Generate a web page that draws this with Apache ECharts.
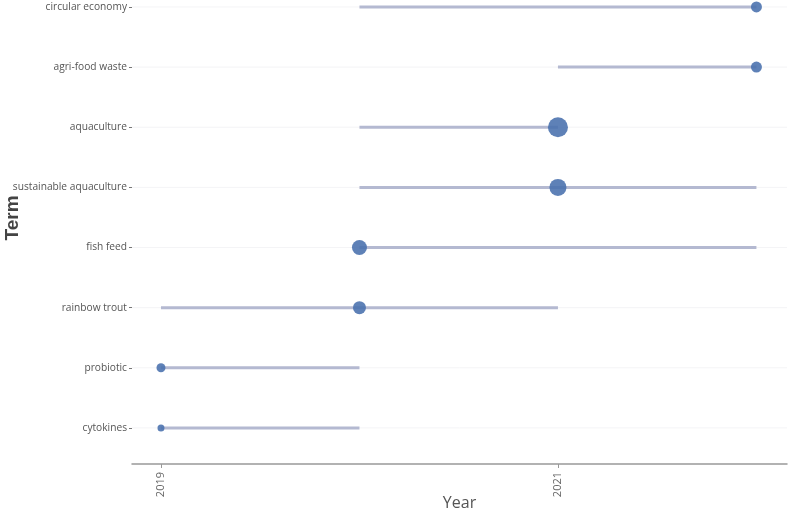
<!DOCTYPE html>
<html>
<head>
<meta charset="utf-8">
<script src="https://cdn.jsdelivr.net/npm/echarts@6/dist/echarts.min.js"></script>
<style>html,body{margin:0;padding:0;background:#fff}#c{width:789px;height:514px}</style>
</head>
<body>
<div id="c"></div>
<script>
// Terms listed top to bottom
const terms = ["circular economy","agri-food waste","aquaculture","sustainable aquaculture","fish feed","rainbow trout","probiotic","cytokines"];
const yearStart = [2020, 2021, 2020, 2020, 2020, 2019, 2019, 2019];
const yearMedian = [2022, 2022, 2021, 2021, 2020, 2020, 2019, 2019];
const yearEnd = [2022, 2022, 2021, 2022, 2022, 2021, 2020, 2020];
const freq = [8, 8, 17, 14, 12, 10, 6, 4];
const xTicks = [2019, 2021];

const n = terms.length;
const yIdx = terms.map((t, i) => n - 1 - i);
const fMin = Math.min(...freq), fMax = Math.max(...freq);
function sizeOf(f){ return 7 + (f - fMin) / (fMax - fMin) * 13; }

const segData = terms.map((t, i) => [yearStart[i], yearEnd[i], yIdx[i]]);
const dotData = terms.map((t, i) => [yearMedian[i], yIdx[i], freq[i]]);

const chart = echarts.init(document.getElementById('c'));
chart.setOption({
  animation: false,
  backgroundColor: '#fff',
  grid: {left: 132, right: 2, top: 0, bottom: 50, containLabel: false, outerBoundsMode: 'none'},
  xAxis: {
    type: 'value', min: 2018.854, max: 2022.154,
    name: 'Year', nameLocation: 'middle', nameGap: 31, nameMoveOverlap: false,
    nameTextStyle: {fontSize: 16, color: '#555', fontFamily: 'Open Sans'},
    axisLine: {show: true, onZero: false, lineStyle: {color: '#999', width: 1.5}},
    axisTick: {show: true, customValues: xTicks, length: 4, lineStyle: {color: '#999'}},
    axisLabel: {customValues: xTicks, rotate: 90, fontSize: 11, color: '#666', fontFamily: 'Open Sans', margin: 8,
      formatter: v => String(v)},
    splitLine: {show: false}
  },
  yAxis: {
    type: 'value', min: -0.6, max: 7.116,
    name: 'Term', nameLocation: 'middle', nameGap: 110, nameMoveOverlap: false,
    nameTextStyle: {fontSize: 19, fontWeight: 'bold', color: '#444', fontFamily: 'Liberation Sans', padding: [0, 0, 0, 28]},
    axisLine: {show: false, onZero: false},
    axisTick: {show: true, customValues: yIdx, length: 3, lineStyle: {color: '#777'}},
    axisLabel: {customValues: yIdx, fontSize: 10.2, color: '#555', fontFamily: 'Open Sans', margin: 5,
      formatter: v => terms[n - 1 - Math.round(v)]},
    splitLine: {show: false}
  },
  series: [
    {
      type: 'custom',
      data: yIdx.map(v => [v]),
      renderItem: function(params, api){
        const y = api.value(0);
        const a = api.coord([2018.854, y]);
        const b = api.coord([2022.154, y]);
        return {type: 'line', shape: {x1: a[0], y1: a[1], x2: b[0], y2: b[1]}, style: {stroke: '#f4f4f6', lineWidth: 1}, silent: true};
      },
      encode: {y: 0},
      z: 1
    },
    {
      type: 'custom',
      data: segData,
      renderItem: function(params, api){
        const a = api.coord([api.value(0), api.value(2)]);
        const b = api.coord([api.value(1), api.value(2)]);
        return {type: 'line', shape: {x1: a[0], y1: a[1], x2: b[0], y2: b[1]}, style: {stroke: '#b4b9d1', lineWidth: 3}};
      },
      encode: {x: [0, 1], y: 2},
      z: 2
    },
    {
      type: 'scatter',
      data: dotData,
      symbolSize: d => sizeOf(d[2]),
      itemStyle: {color: '#4870ad', opacity: 0.88},
      z: 3
    }
  ]
});
</script>
</body>
</html>
